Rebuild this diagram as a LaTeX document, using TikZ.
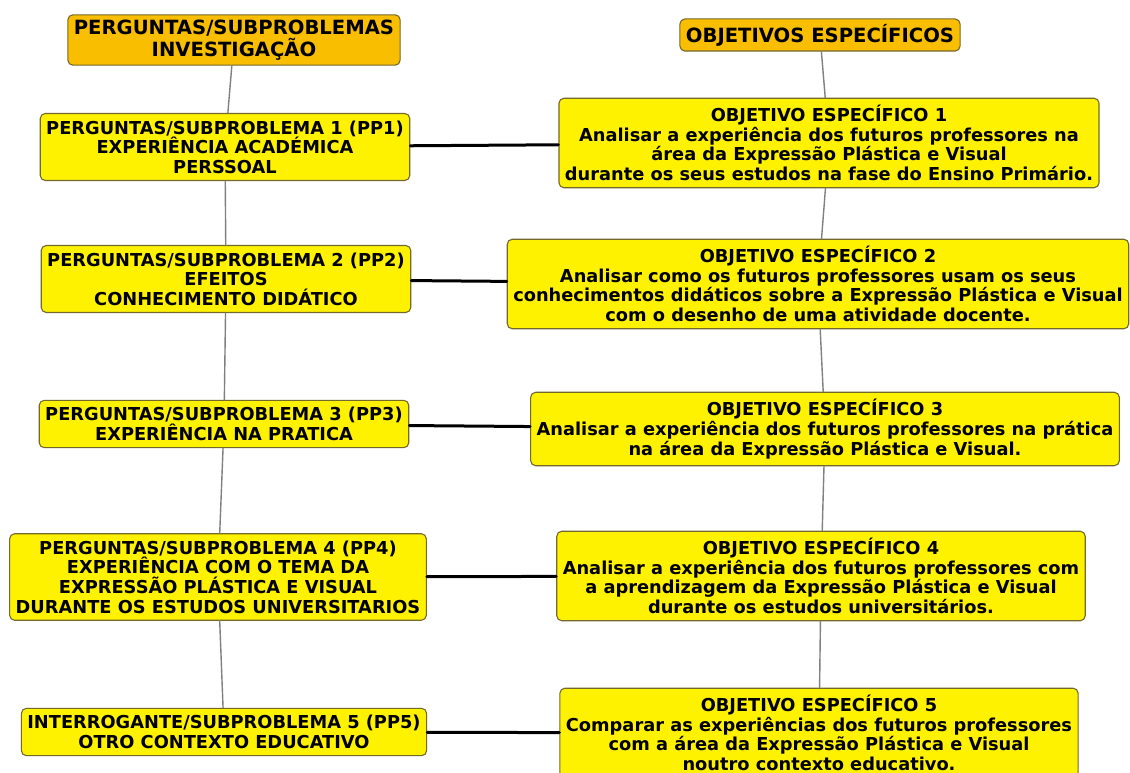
\documentclass[tikz,border=0pt]{standalone}
\usepackage{fontspec}
\setmainfont{DejaVu Sans}
\definecolor{laranja}{RGB}{250,190,0}
\definecolor{borda}{RGB}{115,105,45}
\begin{document}
\begin{tikzpicture}[x=1pt, y=-1pt, font=\fontsize{17.8}{19.6}\selectfont\bfseries, line join=round, line cap=round,
	caixa/.style={draw=borda, fill=yellow, rounded corners=5pt, line width=1.1pt, align=center, inner xsep=6pt, inner ysep=7pt},
	topo/.style={caixa, fill=laranja, font=\fontsize{19.6}{22}\selectfont\bfseries, inner ysep=5pt},
	ramo/.style={draw=gray, line width=1.4pt},
	liga/.style={draw=black, line width=3pt}]
	\clip (0,0) rectangle (1130,773);
	\fill[white] (0,0) rectangle (1130,773);
	
	\node[topo] (hl) at (234,40) {PERGUNTAS/SUBPROBLEMAS\\INVESTIGAÇÃO};
	\node[topo] (hr) at (820,35) {OBJETIVOS ESPECÍFICOS};
	
	\node[caixa] (pp1) at (225,147) {PERGUNTAS/SUBPROBLEMA 1 (PP1)\\EXPERIÊNCIA ACADÉMICA\\PERSSOAL};
	\node[caixa] (pp2) at (226,279) {PERGUNTAS/SUBPROBLEMA 2 (PP2)\\EFEITOS\\CONHECIMENTO DIDÁTICO};
	\node[caixa] (pp3) at (224,424) {PERGUNTAS/SUBPROBLEMA 3 (PP3)\\EXPERIÊNCIA NA PRATICA};
	\node[caixa] (pp4) at (218,577) {PERGUNTAS/SUBPROBLEMA 4 (PP4)\\EXPERIÊNCIA COM O TEMA DA\\EXPRESSÃO PLÁSTICA E VISUAL\\DURANTE OS ESTUDOS UNIVERSITARIOS};
	\node[caixa] (pp5) at (224,732) {INTERROGANTE/SUBPROBLEMA 5 (PP5)\\OTRO CONTEXTO EDUCATIVO};
	
	\node[caixa] (oe1) at (829,143) {OBJETIVO ESPECÍFICO 1\\Analisar a experiência dos futuros professores na\\área da Expressão Plástica e Visual\\durante os seus estudos na fase do Ensino Primário.};
	\node[caixa] (oe2) at (818,284) {OBJETIVO ESPECÍFICO 2\\Analisar como os futuros professores usam os seus\\conhecimentos didáticos sobre a Expressão Plástica e Visual\\com o desenho de uma atividade docente.};
	\node[caixa] (oe3) at (825,429) {OBJETIVO ESPECÍFICO 3\\Analisar a experiência dos futuros professores na prática\\na área da Expressão Plástica e Visual.};
	\node[caixa] (oe4) at (821,576) {OBJETIVO ESPECÍFICO 4\\Analisar a experiência dos futuros professores com\\a aprendizagem da Expressão Plástica e Visual\\durante os estudos universitários.};
	\node[caixa] (oe5) at (819,733) {OBJETIVO ESPECÍFICO 5\\Comparar as experiências dos futuros professores\\com a área da Expressão Plástica e Visual\\noutro contexto educativo.};
	
	\foreach \a/\b in {hl/pp1,pp1/pp2,pp2/pp3,pp3/pp4,pp4/pp5,hr/oe1,oe1/oe2,oe2/oe3,oe3/oe4,oe4/oe5}
	\draw[ramo] (\a) -- (\b);
	\foreach \i in {1,...,5}
	\draw[liga] (pp\i) -- (oe\i);
\end{tikzpicture}
\end{document}
